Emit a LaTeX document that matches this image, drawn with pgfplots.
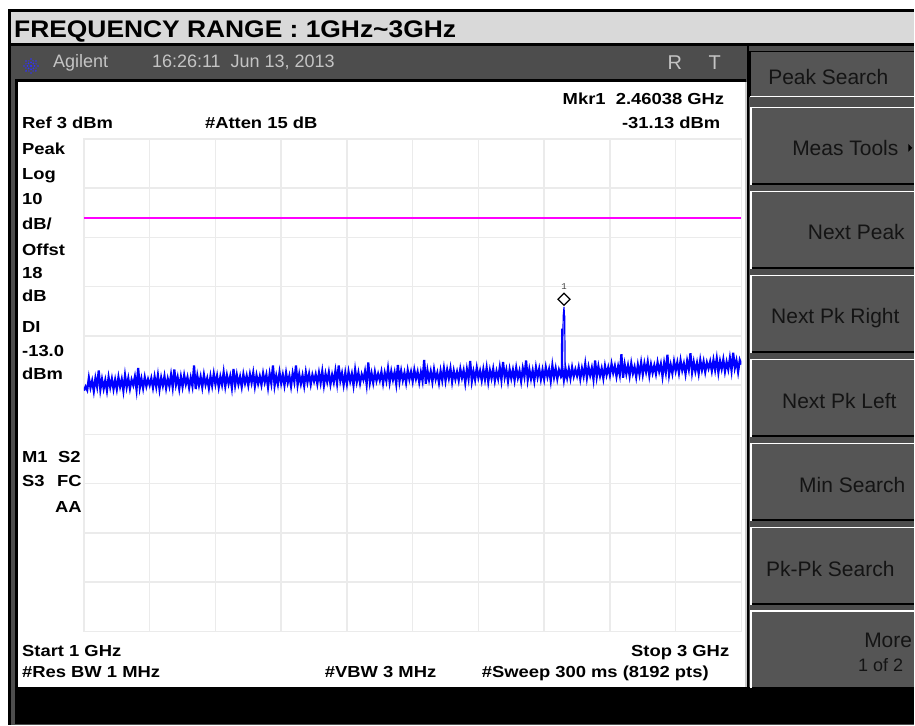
\documentclass[border=0pt]{standalone}
\usepackage{pgfplots}
\pgfplotsset{compat=1.18}
\usetikzlibrary{calc}
\usepackage{fontspec}
\setmainfont{Liberation Sans}
\newfontfamily\scr[FakeStretch=1.15]{Liberation Sans}
\newfontfamily\ttl[FakeStretch=1.1]{Liberation Sans}
\newfontfamily\mono{Liberation Mono}
\definecolor{titlebg}{HTML}{D9D9D9}
\definecolor{instr}{HTML}{4D4D4D}
\definecolor{btn}{HTML}{555555}
\definecolor{hdrtxt}{HTML}{C4C4C4}
\definecolor{btntxt}{HTML}{141414}
\definecolor{gridc}{HTML}{EBEBEB}
\definecolor{agblue}{HTML}{3030FF}
\definecolor{dlmag}{rgb}{1,0,1}
\definecolor{trace}{rgb}{0,0,1}
\newcommand{\st}{\scr\bfseries\fontsize{16}{16}\selectfont}
\newcommand{\bt}{\fontsize{21}{21}\selectfont\color{btntxt}}
\newcommand{\btnbox}[2]{%
  \fill[btn] (751pt,#2pt) rectangle (915pt,#1pt);
  \draw[white, line width=1.5pt] (751.75pt,#2pt) -- (751.75pt,#1pt-0.75pt) -- (915pt,#1pt-0.75pt);
  \draw[black, line width=1.5pt] (752.5pt,#2pt+0.75pt) -- (915pt,#2pt+0.75pt);}
\begin{document}
\begin{tikzpicture}
\begin{scope}[x=1pt,y=1pt]
\useasboundingbox (0,0) rectangle (915,726);
\fill[white] (0,0) rectangle (915,726);
% frame
\fill[black] (8,0) rectangle (915,717);
\fill[titlebg] (11,683) rectangle (915,714);
\fill[instr] (11,0) rectangle (915,680);
\fill[black] (15,38) rectangle (747,647);
\fill[white] (18.5,38) rectangle (746,644);
\fill[gridc!70!gray] (746,38) rectangle (747.5,644);
\fill[black] (747.5,37) rectangle (750,680);
\fill[black] (15,1) rectangle (915,38);
% title
\node[anchor=base west, inner sep=0] at (14,688) {\ttl\bfseries\fontsize{24}{24}\selectfont FREQUENCY RANGE : 1GHz\textasciitilde 3GHz};
% header logo
\foreach \ang in {0,45,...,315} {
  \fill[agblue] ($(31,660)+(\ang:3.5)$) circle [radius=1];
  \fill[agblue] ($(31,660)+(\ang:7)$) circle [radius=0.9];
}
\foreach \ang in {22.5,67.5,...,337.5}
  \fill[agblue] ($(31,660)+(\ang:5.5)$) circle [radius=0.7];
\fill[agblue] (31,660) circle [radius=1.4];
\node[anchor=base west, inner sep=0, text=hdrtxt] at (53,658) {\fontsize{18}{18}\selectfont Agilent};
\node[anchor=base west, inner sep=0, text=hdrtxt] at (152,658) {\fontsize{18}{18}\selectfont 16:26:11\ \ Jun 13, 2013};
\node[anchor=base west, inner sep=0, text=hdrtxt] at (668,656) {\fontsize{20}{20}\selectfont R};
\node[anchor=base west, inner sep=0, text=hdrtxt] at (709,656) {\fontsize{20}{20}\selectfont T};
% buttons
\fill[btn] (751,629) rectangle (915,674);
\draw[black, line width=1.5pt] (750.75,629) -- (750.75,674.25) -- (915,674.25);
\draw[white, line width=1.5pt] (751,629.25) -- (915,629.25);
\end{scope}
\btnbox{619}{541}
\btnbox{535}{457}
\btnbox{451}{373}
\btnbox{367}{289}
\btnbox{283}{205}
\btnbox{199}{121}
\btnbox{115}{37}
\begin{scope}[x=1pt,y=1pt]
\node[anchor=base, inner sep=0] at (829,641) {\bt Peak Search};
\node[anchor=base, inner sep=0] at (846,570) {\bt Meas Tools};
\fill[black] (909,582) -- (913,578) -- (909,574) -- cycle;
\node[anchor=base, inner sep=0] at (857,486) {\bt Next Peak};
\node[anchor=base, inner sep=0] at (836,402) {\bt Next Pk Right};
\node[anchor=base, inner sep=0] at (840,317) {\bt Next Pk Left};
\node[anchor=base, inner sep=0] at (853,233) {\bt Min Search};
\node[anchor=base, inner sep=0] at (831,149) {\bt Pk-Pk Search};
\node[anchor=base east, inner sep=0] at (913,78) {\bt More};
\node[anchor=base east, inner sep=0] at (904,54) {\fontsize{18}{18}\selectfont\color{btntxt}1 of 2};
% screen annotations
\node[anchor=base east, inner sep=0] at (725,621) {\st Mkr1\ \ 2.46038 GHz};
\node[anchor=base west, inner sep=0] at (22,597) {\st Ref 3 dBm};
\node[anchor=base west, inner sep=0] at (205,597) {\st \#Atten 15 dB};
\node[anchor=base east, inner sep=0] at (721,597) {\st -31.13 dBm};
\node[anchor=base west, inner sep=0] at (22,571) {\st Peak};
\node[anchor=base west, inner sep=0] at (22,546) {\st Log};
\node[anchor=base west, inner sep=0] at (22,521) {\st 10};
\node[anchor=base west, inner sep=0] at (22,496) {\st dB/};
\node[anchor=base west, inner sep=0] at (22,470) {\st Offst};
\node[anchor=base west, inner sep=0] at (22,447) {\st 18};
\node[anchor=base west, inner sep=0] at (22,424) {\st dB};
\node[anchor=base west, inner sep=0] at (22,393) {\st DI};
\node[anchor=base west, inner sep=0] at (22,369) {\st -13.0};
\node[anchor=base west, inner sep=0] at (22,346) {\st dBm};
\node[anchor=base west, inner sep=0] at (22,263) {\st M1};
\node[anchor=base west, inner sep=0] at (58,263) {\st S2};
\node[anchor=base west, inner sep=0] at (22,239) {\st S3};
\node[anchor=base west, inner sep=0] at (57,239) {\st FC};
\node[anchor=base west, inner sep=0] at (55,213) {\st AA};
\node[anchor=base west, inner sep=0] at (22,69) {\st Start 1 GHz};
\node[anchor=base east, inner sep=0] at (730,69) {\st Stop 3 GHz};
\node[anchor=base west, inner sep=0] at (22,48) {\st \#Res BW 1 MHz};
\node[anchor=base west, inner sep=0] at (325,48) {\st \#VBW 3 MHz};
\node[anchor=base west, inner sep=0] at (482,48) {\st \#Sweep 300 ms (8192 pts)};
\end{scope}
% plot
\begin{axis}[at={(84pt,94pt)}, anchor=south west, scale only axis,
  width=658pt, height=493pt,
  xmin=1, xmax=3, ymin=-97, ymax=3,
  xtick={1,1.2,1.4,1.6,1.8,2,2.2,2.4,2.6,2.8,3},
  ytick={-97,-87,-77,-67,-57,-47,-37,-27,-17,-7,3},
  xticklabels={}, yticklabels={}, major tick length=0pt,
  grid=major, grid style={draw=gridc, line width=1.5pt},
  axis line style={draw=gridc, line width=1.5pt},
  cycle list={{draw=dlmag, line width=2pt},{draw=trace, line width=2.2pt},{draw=trace, line width=1.2pt}}]
\addplot+[mark=none] coordinates {(1,-13) (3,-13)};
\addplot+[mark=none] coordinates {
(1.000,-48.1)(1.005,-47.3)(1.010,-48.0)(1.015,-45.5)(1.020,-47.5)(1.025,-46.1)(1.030,-48.2)(1.035,-45.6)(1.040,-47.3)(1.045,-44.0)(1.050,-47.9)(1.055,-45.8)(1.060,-47.7)(1.065,-46.0)(1.070,-48.1)(1.075,-45.4)(1.080,-47.4)(1.085,-45.7)(1.090,-47.8)(1.095,-45.9)
(1.100,-47.8)(1.105,-45.4)(1.110,-47.3)(1.115,-45.8)(1.120,-48.1)(1.125,-45.0)(1.130,-47.4)(1.135,-45.6)(1.140,-47.7)(1.145,-45.9)(1.150,-47.0)(1.155,-45.3)(1.160,-47.9)(1.165,-43.5)(1.170,-47.5)(1.175,-45.7)(1.180,-47.6)(1.185,-45.4)(1.190,-47.2)(1.195,-45.8)
(1.200,-47.0)(1.205,-45.6)(1.210,-47.5)(1.215,-45.3)(1.220,-47.3)(1.225,-45.0)(1.230,-47.8)(1.235,-45.5)(1.240,-47.1)(1.245,-45.2)(1.250,-47.6)(1.255,-45.7)(1.260,-47.2)(1.265,-44.9)(1.270,-47.4)(1.275,-43.8)(1.280,-46.9)(1.285,-45.4)(1.290,-47.7)(1.295,-45.3)
(1.300,-47.3)(1.305,-45.0)(1.310,-46.8)(1.315,-45.4)(1.320,-47.5)(1.325,-45.5)(1.330,-47.2)(1.335,-43.0)(1.340,-47.8)(1.345,-45.1)(1.350,-47.0)(1.355,-45.3)(1.360,-47.4)(1.365,-44.9)(1.370,-46.9)(1.375,-45.6)(1.380,-47.6)(1.385,-45.2)(1.390,-47.1)(1.395,-44.7)
(1.400,-46.8)(1.405,-45.1)(1.410,-47.4)(1.415,-45.3)(1.420,-46.9)(1.425,-44.4)(1.430,-47.2)(1.435,-45.0)(1.440,-46.7)(1.445,-45.2)(1.450,-47.5)(1.455,-43.7)(1.460,-47.0)(1.465,-44.9)(1.470,-46.8)(1.475,-45.3)(1.480,-47.3)(1.485,-44.8)(1.490,-46.6)(1.495,-45.1)
(1.500,-47.0)(1.505,-44.8)(1.510,-46.5)(1.515,-44.5)(1.520,-47.2)(1.525,-45.0)(1.530,-46.7)(1.535,-45.2)(1.540,-46.9)(1.545,-44.6)(1.550,-46.4)(1.555,-44.9)(1.560,-47.4)(1.565,-44.7)(1.570,-46.6)(1.575,-43.0)(1.580,-47.1)(1.585,-45.1)(1.590,-46.8)(1.595,-44.4)
(1.600,-46.6)(1.605,-44.9)(1.610,-47.0)(1.615,-44.5)(1.620,-46.5)(1.625,-45.1)(1.630,-47.2)(1.635,-44.6)(1.640,-46.3)(1.645,-43.0)(1.650,-46.9)(1.655,-44.8)(1.660,-46.7)(1.665,-45.0)(1.670,-47.1)(1.675,-44.4)(1.680,-46.4)(1.685,-44.7)(1.690,-46.8)(1.695,-44.9)
(1.700,-46.2)(1.705,-44.8)(1.710,-46.7)(1.715,-44.5)(1.720,-46.5)(1.725,-44.2)(1.730,-47.0)(1.735,-44.7)(1.740,-46.3)(1.745,-44.4)(1.750,-46.8)(1.755,-44.9)(1.760,-46.4)(1.765,-44.1)(1.770,-46.6)(1.775,-43.0)(1.780,-46.1)(1.785,-44.6)(1.790,-46.9)(1.795,-44.5)
(1.800,-46.7)(1.805,-44.3)(1.810,-46.2)(1.815,-44.7)(1.820,-47.0)(1.825,-43.9)(1.830,-46.3)(1.835,-44.5)(1.840,-46.6)(1.845,-44.8)(1.850,-45.9)(1.855,-44.2)(1.860,-46.8)(1.865,-42.4)(1.870,-46.4)(1.875,-44.6)(1.880,-46.5)(1.885,-44.3)(1.890,-46.1)(1.895,-44.7)
(1.900,-46.0)(1.905,-44.3)(1.910,-46.6)(1.915,-44.5)(1.920,-46.1)(1.925,-43.6)(1.930,-46.4)(1.935,-44.2)(1.940,-45.9)(1.945,-44.4)(1.950,-46.7)(1.955,-42.9)(1.960,-46.2)(1.965,-44.1)(1.970,-46.0)(1.975,-44.5)(1.980,-46.5)(1.985,-44.0)(1.990,-45.8)(1.995,-44.3)
(2.000,-46.2)(2.005,-43.9)(2.010,-45.7)(2.015,-44.3)(2.020,-46.4)(2.025,-44.4)(2.030,-46.1)(2.035,-41.9)(2.040,-46.7)(2.045,-44.0)(2.050,-45.9)(2.055,-44.2)(2.060,-46.3)(2.065,-43.8)(2.070,-45.8)(2.075,-44.5)(2.080,-46.5)(2.085,-44.1)(2.090,-46.0)(2.095,-43.6)
(2.100,-46.1)(2.105,-43.9)(2.110,-45.6)(2.115,-43.6)(2.120,-46.3)(2.125,-44.1)(2.130,-45.8)(2.135,-44.3)(2.140,-46.0)(2.145,-43.7)(2.150,-45.5)(2.155,-44.0)(2.160,-46.5)(2.165,-43.8)(2.170,-45.7)(2.175,-42.1)(2.180,-46.2)(2.185,-44.2)(2.190,-45.9)(2.195,-43.5)
(2.200,-45.5)(2.205,-44.1)(2.210,-46.0)(2.215,-43.8)(2.220,-45.8)(2.225,-43.5)(2.230,-46.3)(2.235,-44.0)(2.240,-45.6)(2.245,-43.7)(2.250,-46.1)(2.255,-44.2)(2.260,-45.7)(2.265,-43.4)(2.270,-45.9)(2.275,-42.3)(2.280,-45.4)(2.285,-43.9)(2.290,-46.2)(2.295,-43.8)
(2.300,-45.6)(2.305,-43.9)(2.310,-46.0)(2.315,-43.5)(2.320,-45.5)(2.325,-44.1)(2.330,-46.2)(2.335,-43.6)(2.340,-45.3)(2.345,-42.0)(2.350,-45.9)(2.355,-43.8)(2.360,-45.7)(2.365,-44.0)(2.370,-46.1)(2.375,-43.4)(2.380,-45.4)(2.385,-43.7)(2.390,-45.8)(2.395,-43.9)
(2.400,-45.8)(2.405,-43.4)(2.410,-45.3)(2.415,-43.8)(2.420,-46.1)(2.425,-43.0)(2.430,-45.4)(2.435,-43.6)(2.440,-45.7)(2.445,-43.9)(2.450,-45.0)(2.455,-43.3)(2.460,-45.9)(2.465,-43.6)(2.470,-45.5)(2.475,-43.7)(2.480,-45.6)(2.485,-43.4)(2.490,-45.2)(2.495,-43.8)
(2.500,-45.1)(2.505,-43.4)(2.510,-45.7)(2.515,-43.6)(2.520,-45.2)(2.525,-42.7)(2.530,-45.5)(2.535,-43.3)(2.540,-45.0)(2.545,-43.5)(2.550,-45.8)(2.555,-42.0)(2.560,-45.3)(2.565,-43.2)(2.570,-45.1)(2.575,-43.6)(2.580,-45.6)(2.585,-43.1)(2.590,-44.9)(2.595,-43.4)
(2.600,-45.0)(2.605,-42.7)(2.610,-44.5)(2.615,-43.1)(2.620,-45.2)(2.625,-43.2)(2.630,-44.9)(2.635,-40.7)(2.640,-45.5)(2.645,-42.8)(2.650,-44.7)(2.655,-43.0)(2.660,-45.1)(2.665,-42.6)(2.670,-44.6)(2.675,-43.3)(2.680,-45.3)(2.685,-42.9)(2.690,-44.8)(2.695,-42.4)
(2.700,-44.8)(2.705,-42.6)(2.710,-44.3)(2.715,-42.3)(2.720,-45.0)(2.725,-42.8)(2.730,-44.5)(2.735,-43.0)(2.740,-44.7)(2.745,-42.4)(2.750,-44.2)(2.755,-42.7)(2.760,-45.2)(2.765,-42.5)(2.770,-44.4)(2.775,-40.8)(2.780,-44.9)(2.785,-42.9)(2.790,-44.6)(2.795,-42.2)
(2.800,-44.1)(2.805,-42.4)(2.810,-44.5)(2.815,-42.0)(2.820,-44.0)(2.825,-42.6)(2.830,-44.7)(2.835,-42.1)(2.840,-43.8)(2.845,-40.5)(2.850,-44.4)(2.855,-42.3)(2.860,-44.2)(2.865,-42.5)(2.870,-44.6)(2.875,-41.9)(2.880,-43.9)(2.885,-42.2)(2.890,-44.3)(2.895,-42.4)
(2.900,-43.6)(2.905,-42.2)(2.910,-44.1)(2.915,-41.9)(2.920,-43.9)(2.925,-41.6)(2.930,-44.4)(2.935,-42.1)(2.940,-43.7)(2.945,-41.8)(2.950,-44.2)(2.955,-42.3)(2.960,-43.8)(2.965,-41.5)(2.970,-44.0)(2.975,-40.4)(2.980,-43.5)(2.985,-42.0)(2.990,-44.3)(2.995,-41.9)(3.000,-42.8)
};
\addplot+[mark=none] coordinates {
(2.452,-45.6) (2.4535,-35.5) (2.455,-45.3) (2.458,-33.0) (2.46038,-31.13) (2.4615,-32.8) (2.4625,-33.0) (2.464,-45.4) (2.466,-45.0)};
\addplot[only marks, mark=square*, mark size=4.2pt,
  mark options={rotate=45, fill=white, draw=black, line width=1.2pt},
  nodes near coords={1},
  nodes near coords style={anchor=south, yshift=9pt, inner sep=0pt, text=black!75, font=\mono\fontsize{9}{9}\selectfont}]
  coordinates {(2.46038,-29.56)};
\end{axis}
\end{tikzpicture}
\end{document}
